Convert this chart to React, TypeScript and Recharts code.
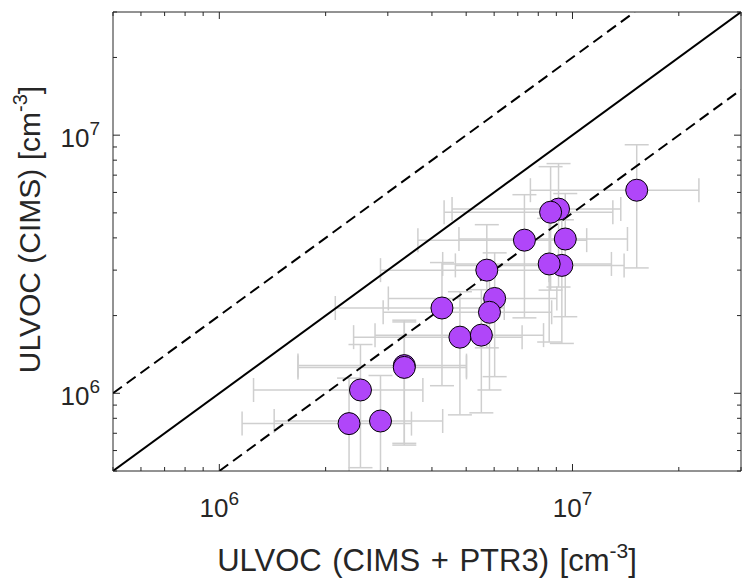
import React from 'react';
import { ScatterChart, Scatter, XAxis, YAxis, ErrorBar } from 'recharts';

// ULVOC concentrations, cm^-3 (drawing order: later points sit on top)
const xValues = [1.52e7, 9.13e6, 8.67e6, 9.54e6, 7.31e6, 9.33e6, 8.59e6, 5.72e6, 6.02e6, 5.82e6, 4.27e6, 4.8e6, 5.52e6, 3.34e6, 3.34e6, 2.51e6, 2.33e6, 2.86e6];
const yValues = [6.12e6, 5.17e6, 5.03e6, 3.96e6, 3.92e6, 3.13e6, 3.17e6, 3.0e6, 2.33e6, 2.06e6, 2.14e6, 1.65e6, 1.68e6, 1.28e6, 1.26e6, 1.03e6, 7.63e5, 7.81e5];
// uncertainties (about +-50 %)
const xErrors = [7.6e6, 4.57e6, 4.34e6, 4.77e6, 3.66e6, 4.67e6, 4.3e6, 2.86e6, 3.01e6, 2.91e6, 2.14e6, 2.4e6, 2.76e6, 1.67e6, 1.67e6, 1.26e6, 1.17e6, 1.43e6];
const yErrors = [3.06e6, 2.59e6, 2.52e6, 1.98e6, 1.96e6, 1.57e6, 1.59e6, 1.5e6, 1.17e6, 1.03e6, 1.07e6, 8.25e5, 8.4e5, 6.4e5, 6.3e5, 5.15e5, 3.82e5, 3.91e5];

// 1:1 line and factor-of-2 lines, [x, y] end points
const unityLine = [[5e5, 5e5], [3e7, 3e7]];
const upperLine = [[5e5, 1e6], [1.5e7, 3e7]];
const lowerLine = [[1e6, 5e5], [3e7, 1.5e7]];

const axisDomain = [5e5, 3e7];
const logTicks = [5e5, 6e5, 7e5, 8e5, 9e5, 1e6, 2e6, 3e6, 4e6, 5e6, 6e6, 7e6, 8e6, 9e6, 1e7, 2e7, 3e7];
const majorTicks = [1e6, 1e7];

const W = 742;
const H = 582;
const MARGIN = { top: 11, right: 0, bottom: 0, left: 0 };
const Y_AXIS_W = 113;
const X_AXIS_H = 111;
const MIRROR_SIZE = 1; // top / right axes only carry the box line and ticks
const PLOT_X = MARGIN.left + Y_AXIS_W;
const PLOT_Y = MARGIN.top + MIRROR_SIZE;
const PLOT_W = W - PLOT_X - MARGIN.right - MIRROR_SIZE;
const PLOT_H = H - PLOT_Y - MARGIN.bottom - X_AXIS_H;

const AXIS_COLOR = '#262626';
const MARKER_COLOR = '#B046F9';
const ERR_COLOR = '#CFCFCF';
const FONT = '"Liberation Sans", Arial, Helvetica, sans-serif';

const points = xValues.map((x, i) => ({ x, y: yValues[i], xErr: xErrors[i], yErr: yErrors[i] }));
const toPts = (seg: number[][]) => seg.map(([x, y]) => ({ x, y }));

const isMajor = (v: number) => majorTicks.includes(v);
const exponent = (v: number) => String(Math.round(Math.log10(v)));

const BottomTick = ({ x, y, payload }: any) => {
  const major = isMajor(payload.value);
  return (
    <g>
      <line x1={x} y1={y} x2={x} y2={y - (major ? 7 : 4)} stroke={AXIS_COLOR} />
      {major && (
        <text x={x} y={y + 46} textAnchor="middle" fontSize={26} fill={AXIS_COLOR} fontFamily={FONT}>
          10<tspan dy={-12} fontSize={19}>{exponent(payload.value)}</tspan>
        </text>
      )}
    </g>
  );
};

const TopTick = ({ x, y, payload }: any) => (
  <line x1={x} y1={y} x2={x} y2={y + (isMajor(payload.value) ? 7 : 4)} stroke={AXIS_COLOR} />
);

const LeftTick = ({ x, y, payload }: any) => {
  const major = isMajor(payload.value);
  return (
    <g>
      <line x1={x} y1={y} x2={x + (major ? 7 : 4)} y2={y} stroke={AXIS_COLOR} />
      {major && (
        <text x={x - 13} y={y + 12} textAnchor="end" fontSize={26} fill={AXIS_COLOR} fontFamily={FONT}>
          10<tspan dy={-12} fontSize={19}>{exponent(payload.value)}</tspan>
        </text>
      )}
    </g>
  );
};

const RightTick = ({ x, y, payload }: any) => (
  <line x1={x} y1={y} x2={x - (isMajor(payload.value) ? 7 : 4)} y2={y} stroke={AXIS_COLOR} />
);

const XLabel = ({ viewBox }: any) => (
  <text x={viewBox.x + viewBox.width / 2} y={viewBox.y + 100} textAnchor="middle" fontSize={31} wordSpacing={2} fill={AXIS_COLOR} fontFamily={FONT}>
    ULVOC (CIMS + PTR3) [cm<tspan dy={-13} fontSize={21}>-3</tspan><tspan dy={13}>]</tspan>
  </text>
);

const YLabel = ({ viewBox }: any) => {
  const tx = 40;
  const ty = viewBox.y + viewBox.height / 2 - 12;
  return (
    <text x={tx} y={ty} transform={`rotate(-90, ${tx}, ${ty})`} textAnchor="middle" fontSize={30} fill={AXIS_COLOR} fontFamily={FONT}>
      ULVOC (CIMS) [cm<tspan dy={-13} fontSize={20}>-3</tspan><tspan dy={13}>]</tspan>
    </text>
  );
};

const Dot = ({ cx, cy }: any) => <circle cx={cx} cy={cy} r={11} fill={MARKER_COLOR} stroke="#000" strokeWidth={1} />;
const NoShape = () => <g />;

const dashed = { stroke: '#000', strokeWidth: 2, strokeDasharray: '11 6' };
const solid = { stroke: '#000', strokeWidth: 2 };

export default function App() {
  return (
    <div style={{ width: W, height: H, position: 'relative' }}>
      <style>{'body { margin: 0; } .recharts-errorBars, .recharts-errorBar { clip-path: url(#plot-clip); }'}</style>
      <svg width={0} height={0} style={{ position: 'absolute' }}>
        <defs>
          <clipPath id="plot-clip" clipPathUnits="userSpaceOnUse">
            <rect x={PLOT_X} y={PLOT_Y} width={PLOT_W} height={PLOT_H} />
          </clipPath>
        </defs>
      </svg>
      <ScatterChart width={W} height={H} margin={MARGIN} style={{ fontFamily: FONT }}>
        <XAxis
          dataKey="x"
          type="number"
          scale="log"
          domain={axisDomain}
          allowDataOverflow
          ticks={logTicks}
          interval={0}
          height={X_AXIS_H}
          tickSize={0}
          tickMargin={0}
          tickLine={false}
          tick={<BottomTick />}
          axisLine={{ stroke: AXIS_COLOR }}
          label={<XLabel />}
        />
        <XAxis
          xAxisId="top"
          orientation="top"
          dataKey="x"
          type="number"
          scale="log"
          domain={axisDomain}
          allowDataOverflow
          ticks={logTicks}
          interval={0}
          height={MIRROR_SIZE}
          tickSize={0}
          tickMargin={0}
          tickLine={false}
          tick={<TopTick />}
          axisLine={{ stroke: AXIS_COLOR }}
        />
        <YAxis
          dataKey="y"
          type="number"
          scale="log"
          domain={axisDomain}
          allowDataOverflow
          ticks={logTicks}
          interval={0}
          width={Y_AXIS_W}
          tickSize={0}
          tickMargin={0}
          tickLine={false}
          tick={<LeftTick />}
          axisLine={{ stroke: AXIS_COLOR }}
          label={<YLabel />}
        />
        <YAxis
          yAxisId="right"
          orientation="right"
          dataKey="y"
          type="number"
          scale="log"
          domain={axisDomain}
          allowDataOverflow
          ticks={logTicks}
          interval={0}
          width={MIRROR_SIZE}
          tickSize={0}
          tickMargin={0}
          tickLine={false}
          tick={<RightTick />}
          axisLine={{ stroke: AXIS_COLOR }}
        />
        <Scatter data={points} shape={<NoShape />} isAnimationActive={false}>
          <ErrorBar dataKey="xErr" direction="x" width={12} stroke={ERR_COLOR} strokeWidth={1.5} isAnimationActive={false} />
          <ErrorBar dataKey="yErr" direction="y" width={12} stroke={ERR_COLOR} strokeWidth={1.5} isAnimationActive={false} />
        </Scatter>
        <Scatter data={toPts(upperLine)} shape={<NoShape />} line={dashed} isAnimationActive={false} />
        <Scatter data={toPts(lowerLine)} shape={<NoShape />} line={dashed} isAnimationActive={false} />
        <Scatter xAxisId="top" yAxisId="right" data={toPts(unityLine)} shape={<NoShape />} line={solid} isAnimationActive={false} />
        <Scatter data={points} shape={<Dot />} isAnimationActive={false} />
      </ScatterChart>
    </div>
  );
}
